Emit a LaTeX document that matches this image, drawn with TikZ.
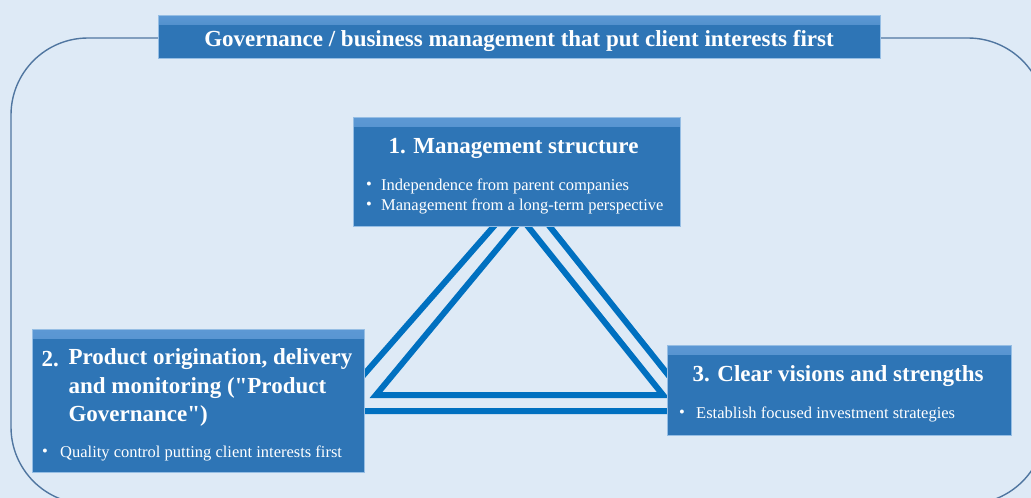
\documentclass[tikz,border=0pt]{standalone}
\usepackage{fontspec}
\setmainfont{Liberation Serif}
\usetikzlibrary{positioning}
\tikzstyle{diagram} = [x = 1pt, y = -1pt]
\definecolor{bgColor}{RGB}{222,234,246}
\definecolor{boxColor}{RGB}{46,117,182}
\definecolor{boxTop}{RGB}{92,152,212}
\definecolor{boxEdge}{RGB}{150,190,228}
\definecolor{frameColor}{RGB}{80,118,160}
\definecolor{triColor}{RGB}{0,112,192}
\tikzstyle{boxStyle} = [draw=boxEdge, fill=boxColor, line width=1pt, inner sep=0pt, anchor=north west,
  path picture={\shade[top color=boxTop, bottom color=boxColor] (path picture bounding box.north west) rectangle ([yshift=-9pt]path picture bounding box.north east);}]
\tikzstyle{frameLine} = [color=frameColor, line width=1.4pt, rounded corners=77pt]
\tikzstyle{triLine} = [color=triColor, line width=6pt, line join=miter]
\tikzstyle{bannerText} = [text=white, font=\bfseries\fontsize{23}{26}\selectfont]
\tikzstyle{headText} = [text=white, font=\bfseries\fontsize{23}{26}\selectfont, anchor=west]
\tikzstyle{bulletText} = [text=white, font=\fontsize{16.5}{19}\selectfont, anchor=west, inner sep=0pt]
\newcommand{\blueBox}[5]{\node [boxStyle, minimum width=#3, minimum height=#4] (#5) at (#1,#2) {};}

\begin{document}
\begin{tikzpicture}[diagram]
  \clip (0,0) rectangle (1031,498);
  \fill [bgColor] (0,0) rectangle (1031,498);
  \draw [frameLine] (11,38) rectangle (1045,504);

  \coordinate (outerTop) at (523,193);
  \coordinate (outerLeft) at (332,411);
  \coordinate (outerRight) at (697,411);
  \coordinate (innerTop) at (522,219);
  \coordinate (innerLeft) at (376,395);
  \coordinate (innerRight) at (663,395);
  \draw [triLine] (outerTop) -- (outerLeft) -- (outerRight) -- cycle;
  \draw [triLine] (innerTop) -- (innerLeft) -- (innerRight) -- cycle;

  \blueBox{158}{15}{722pt}{43pt}{banner}
  \node [bannerText] (bannerTitle) at (519,41) {Governance / business management that put client interests first};

  \blueBox{353}{117}{327pt}{109pt}{structure}
  \node [headText] (structureTitle) at (385,148) {1. Management structure};
  \node [bulletText] (structureDotA) at (366,186) {•};
  \node [bulletText] (structureItemA) at (381,186) {Independence from parent companies};
  \node [bulletText] (structureDotB) at (366,206) {•};
  \node [bulletText] (structureItemB) at (381,206) {Management from a long-term perspective};

  \blueBox{32}{329}{332pt}{143pt}{product}
  \node [headText] (productNum) at (38,359) {2.};
  \node [headText] (productTitleA) at (65,359) {Product origination, delivery};
  \node [headText] (productTitleB) at (65,388) {and monitoring (\textquotedbl Product};
  \node [headText] (productTitleC) at (65,416) {Governance\textquotedbl)};
  \node [bulletText] (productDot) at (42,453) {•};
  \node [bulletText] (productItem) at (60,453) {Quality control putting client interests first};

  \blueBox{667}{345}{344pt}{90pt}{visions}
  \node [headText] (visionsTitle) at (689,376) {3. Clear visions and strengths};
  \node [bulletText] (visionsDot) at (679,414) {•};
  \node [bulletText] (visionsItem) at (696,414) {Establish focused investment strategies};
\end{tikzpicture}
\end{document}
